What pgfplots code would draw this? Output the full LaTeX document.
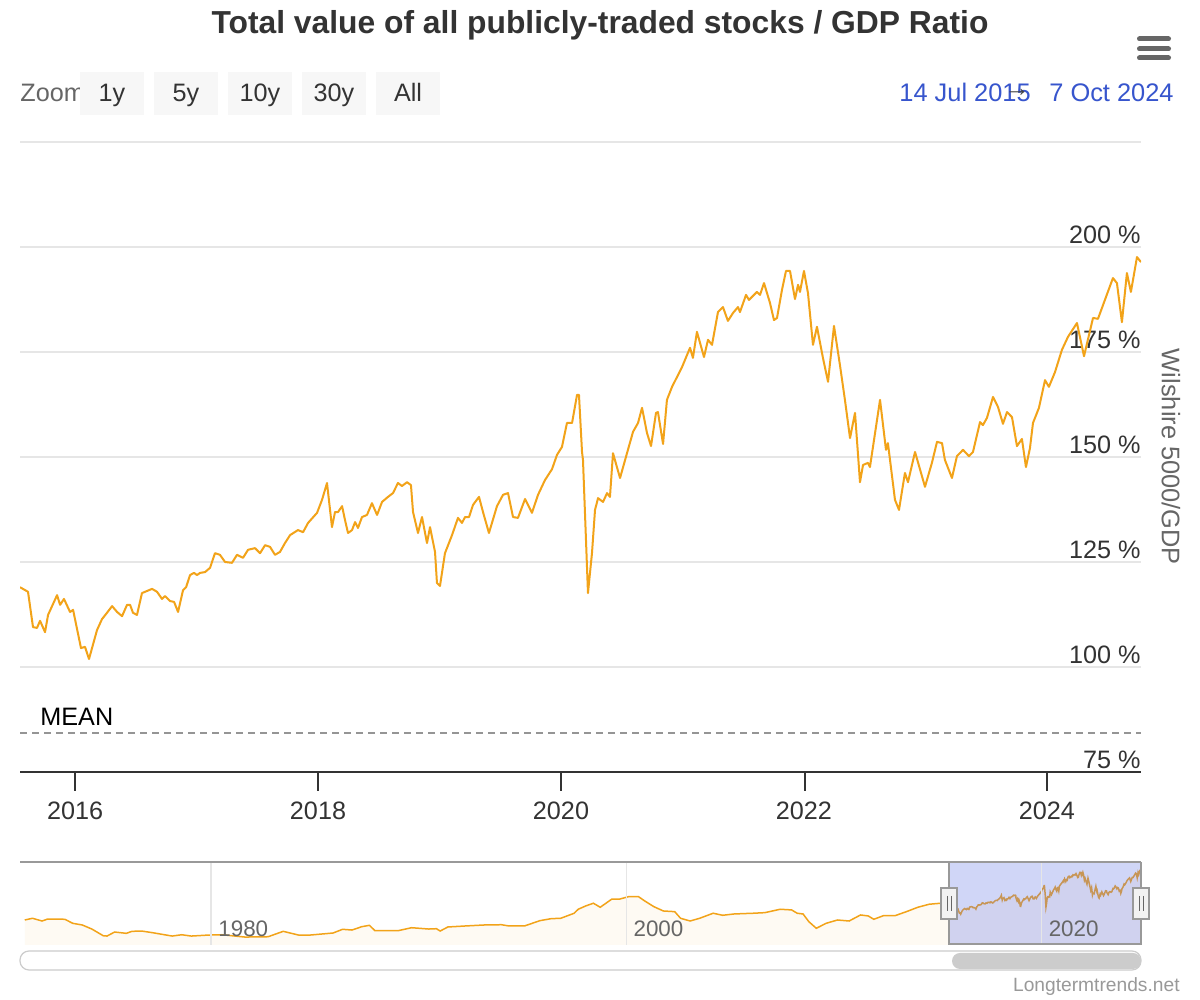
\documentclass[border=0pt]{standalone}
\usepackage{fontspec}
\setmainfont{Liberation Sans}
\usepackage{pgfplots}
\usepackage{pgfplotstable}
\pgfplotsset{compat=1.18}
\definecolor{lineorange}{RGB}{242,163,25}
\definecolor{c333}{HTML}{333333}
\definecolor{c444}{HTML}{444444}
\definecolor{c666}{HTML}{666666}
\definecolor{c999}{HTML}{999999}
\definecolor{gridgray}{HTML}{E6E6E6}
\definecolor{btn}{HTML}{F7F7F7}
\definecolor{datablue}{RGB}{55,85,205}
\definecolor{maskblue}{RGB}{102,120,230}
\definecolor{navfill}{RGB}{254,250,243}
\definecolor{scrollgray}{HTML}{CCCCCC}
\definecolor{meangray}{HTML}{959595}
\definecolor{handlefill}{HTML}{F2F2F2}
\newcommand{\fs}[1]{\fontsize{#1}{#1}\selectfont}

\pgfplotstableread{
x y
2015.547 119.0
2015.613 117.9
2015.654 109.5
2015.687 109.3
2015.712 111.0
2015.753 108.3
2015.778 112.4
2015.852 117.1
2015.877 114.8
2015.909 116.2
2015.959 113.1
2015.984 113.6
2016.049 104.5
2016.082 104.8
2016.115 101.9
2016.181 108.8
2016.222 111.4
2016.263 112.9
2016.305 114.5
2016.346 113.1
2016.387 112.1
2016.428 114.8
2016.453 114.8
2016.477 112.9
2016.510 112.4
2016.551 117.6
2016.593 118.1
2016.634 118.6
2016.675 117.9
2016.716 116.2
2016.741 116.9
2016.782 115.7
2016.815 115.5
2016.848 113.1
2016.889 118.3
2016.914 119.0
2016.947 121.9
2016.979 122.4
2017.004 121.9
2017.029 122.4
2017.070 122.6
2017.111 123.6
2017.152 127.1
2017.193 126.7
2017.235 125.0
2017.292 124.8
2017.333 126.7
2017.383 126.0
2017.424 127.9
2017.481 128.3
2017.523 127.1
2017.564 129.0
2017.605 128.6
2017.646 126.7
2017.687 127.4
2017.728 129.5
2017.770 131.4
2017.835 132.6
2017.877 132.1
2017.918 134.3
2017.992 136.7
2018.033 139.8
2018.074 143.8
2018.115 133.3
2018.140 136.9
2018.165 136.9
2018.198 138.3
2018.222 135.0
2018.247 131.9
2018.280 132.6
2018.305 134.5
2018.329 133.1
2018.362 135.7
2018.403 136.2
2018.444 139.0
2018.486 136.2
2018.527 139.3
2018.576 140.5
2018.617 141.4
2018.658 143.8
2018.691 143.1
2018.733 144.0
2018.765 143.3
2018.782 136.9
2018.823 131.9
2018.856 135.7
2018.897 129.5
2018.922 133.3
2018.963 127.4
2018.979 120.0
2019.004 119.3
2019.045 127.1
2019.103 131.4
2019.152 135.5
2019.185 134.3
2019.210 135.7
2019.243 135.7
2019.276 138.6
2019.325 140.5
2019.358 136.9
2019.407 131.9
2019.473 138.3
2019.523 141.0
2019.564 141.4
2019.605 135.7
2019.646 135.5
2019.704 140.0
2019.761 136.7
2019.811 141.0
2019.868 144.5
2019.926 147.1
2019.967 150.5
2020.008 152.4
2020.049 158.1
2020.091 158.1
2020.132 164.8
2020.148 164.8
2020.173 151.2
2020.181 149.3
2020.222 117.6
2020.255 127.1
2020.280 137.4
2020.305 140.2
2020.346 139.3
2020.379 141.4
2020.403 140.5
2020.428 150.9
2020.486 145.0
2020.551 151.7
2020.593 156.0
2020.634 158.1
2020.667 161.7
2020.708 155.7
2020.741 152.6
2020.782 160.5
2020.798 160.7
2020.840 153.1
2020.872 163.6
2020.914 166.7
2020.996 171.4
2021.062 176.0
2021.086 173.6
2021.119 179.8
2021.177 173.8
2021.210 177.9
2021.243 176.7
2021.292 184.5
2021.333 185.7
2021.374 182.4
2021.416 184.3
2021.457 185.7
2021.473 184.5
2021.523 188.6
2021.547 187.4
2021.613 189.3
2021.638 188.6
2021.671 191.4
2021.720 186.7
2021.753 182.6
2021.778 183.1
2021.819 189.8
2021.852 194.3
2021.885 194.3
2021.926 187.6
2021.951 191.0
2021.967 189.3
2022.000 194.3
2022.033 189.0
2022.074 176.7
2022.107 181.0
2022.156 173.6
2022.198 167.9
2022.247 181.2
2022.296 171.9
2022.337 163.6
2022.379 154.5
2022.420 160.5
2022.461 144.0
2022.486 148.1
2022.527 148.6
2022.543 147.6
2022.626 163.6
2022.675 151.7
2022.691 153.3
2022.749 139.8
2022.782 137.4
2022.831 146.2
2022.856 144.0
2022.914 151.2
2022.996 142.9
2023.053 148.6
2023.095 153.6
2023.136 153.3
2023.160 149.3
2023.218 145.0
2023.259 150.2
2023.309 151.7
2023.358 150.2
2023.391 151.2
2023.449 158.3
2023.473 157.6
2023.506 159.3
2023.556 164.3
2023.597 161.9
2023.638 157.9
2023.671 160.7
2023.712 159.5
2023.753 152.6
2023.794 154.3
2023.827 147.6
2023.860 152.1
2023.885 158.1
2023.934 161.7
2023.984 168.3
2024.016 166.7
2024.066 170.2
2024.123 175.5
2024.173 178.6
2024.247 181.9
2024.305 174.0
2024.379 183.1
2024.420 182.9
2024.477 187.4
2024.543 192.6
2024.576 191.4
2024.617 182.1
2024.658 193.8
2024.691 189.3
2024.741 197.6
2024.774 196.4
}\mainT

\pgfplotstableread{
x y
1971.03 89.1
1971.40 92.9
1971.86 86.9
1972.14 91.3
1972.96 90.7
1973.34 81.8
1973.80 78.1
1974.26 69.2
1974.81 54.4
1974.99 53.7
1975.36 62.6
1975.92 59.7
1976.19 64.1
1976.66 64.8
1977.20 61.0
1978.13 53.7
1978.59 56.6
1979.05 53.7
1979.88 55.9
1980.53 56.6
1981.64 51.5
1982.75 52.2
1983.48 64.1
1984.22 55.9
1984.77 55.9
1985.88 60.4
1986.34 68.6
1986.79 67.0
1987.26 74.3
1987.63 77.4
1987.90 65.5
1989.01 65.5
1989.66 72.1
1990.49 69.2
1990.86 69.9
1991.04 64.8
1991.41 73.7
1992.24 75.9
1993.16 78.1
1993.99 78.7
1994.36 75.9
1995.10 75.9
1995.84 87.6
1996.38 92.0
1996.85 92.9
1997.49 103.9
1997.69 112.8
1998.05 120.1
1998.42 126.1
1998.75 117.2
1999.30 134.9
1999.66 134.9
2000.13 140.7
2000.59 140.7
2000.87 131.8
2001.33 118.6
2001.79 109.0
2002.34 107.5
2002.62 92.9
2003.08 86.9
2003.54 92.9
2004.19 104.0
2004.65 99.5
2005.20 102.4
2006.12 104.0
2006.68 105.3
2007.42 112.8
2007.97 111.3
2008.24 104.0
2008.52 102.4
2008.80 85.4
2009.16 70.8
2009.63 81.8
2010.18 89.1
2010.74 86.9
2011.29 100.2
2011.66 98.0
2011.93 90.7
2012.39 98.6
2012.95 98.6
2013.50 107.5
2014.05 117.2
2014.60 123.9
2015.16 126.1
2015.547 119.0
}\histT

\begin{document}
\begin{tikzpicture}
\begin{scope}[x=0.5pt,y=0.5pt]
\fill[white] (0,0) rectangle (1200,1000);
\end{scope}

% ---------- main chart ----------
\begin{axis}[
  at={(10pt,114pt)}, anchor=south west,
  width=560.5pt, height=315pt, scale only axis,
  xmin=2015.547, xmax=2024.774, ymin=75, ymax=225,
  axis line style={draw=none},
  major tick length=0pt,
  xtick={2016,2018,2020,2022,2024},
  xticklabels={2016,2018,2020,2022,2024},
  xtick pos=bottom,
  xticklabel style={font=\fs{12.6}, text=c333, anchor=north, yshift=-11.5pt},
  ytick={75,100,125,150,175,200,225},
  yticklabels={75 \%,100 \%,125 \%,150 \%,175 \%,200 \%,{}},
  yticklabel pos=right,
  yticklabel style={font=\fs{12.6}, text=c333, anchor=south east, inner xsep=0pt, inner ysep=1.5pt},
  ymajorgrids, grid style={draw=gridgray, line width=0.6pt},
  /pgf/number format/assume math mode=true,
]
\addplot[meangray, line width=1pt, dash pattern=on 3.5pt off 2.5pt] coordinates {(2015.547,84.3) (2024.774,84.3)};
\addplot[lineorange, line width=1pt, line join=round] table[x=x,y=y] {\mainT};
\end{axis}

% ---------- navigator ----------
\begin{axis}[
  at={(10pt,27.5pt)}, anchor=south west,
  width=560.5pt, height=41.5pt, scale only axis,
  xmin=1970.8, xmax=2024.8, ymin=34, ymax=217,
  axis on top,
  axis line style={draw=none},
  major tick length=0pt,
  ytick=\empty,
  xtick={1980,2000,2020}, xticklabels={1980,2000,2020},
  xtick pos=bottom,
  xmajorgrids, grid style={draw=gridgray, line width=0.6pt},
  xticklabel style={font=\fs{11.2}, text=c666, anchor=south west, inner xsep=3.5pt, inner ysep=4pt},
  /pgf/number format/assume math mode=true,
]
\addplot[draw=none, fill=navfill] table[x=x,y=y] {\histT} \closedcycle;
\addplot[draw=none, fill=navfill] table[x=x,y=y] {\mainT} \closedcycle;
\addplot[lineorange, line width=0.75pt] table[x=x,y=y] {\histT};
\addplot[lineorange, line width=0.75pt] table[x=x,y=y] {\mainT};
\fill[maskblue, fill opacity=0.3] (axis cs:2015.57,34) rectangle (axis cs:2024.8,217);
\end{axis}

\begin{scope}[x=0.5pt,y=0.5pt]
% main x axis line and ticks
\draw[c333, line width=1pt] (20,228) -- (1141,228);
\foreach \xx in {75,318,561,805,1047}{
  \draw[c333, line width=1pt] (\xx,228) -- (\xx,209);
}
% navigator outline and handles
\draw[c999, line width=1pt] (20,138) -- (1141,138);
\draw[c999, line width=0.8pt] (949,138) -- (949,56) -- (1141,56) -- (1141,138);
\filldraw[fill=handlefill, draw=c999, line width=0.6pt] (941,112) rectangle (957,81);
\draw[c666, line width=0.5pt] (947,104) -- (947,89) (951,104) -- (951,89);
\filldraw[fill=handlefill, draw=c999, line width=0.6pt] (1133,112) rectangle (1149,81);
\draw[c666, line width=0.5pt] (1139,104) -- (1139,89) (1143,104) -- (1143,89);

% scrollbar
\draw[fill=white, draw=scrollgray, line width=0.6pt, rounded corners=4.5pt] (20,49) rectangle (1141,30);
\fill[scrollgray, rounded corners=4pt] (952,47) rectangle (1141,31);

% credits
\node[anchor=base east, inner sep=0, text=c999, font=\fs{9.6}] at (1180,8) {Longtermtrends.net};

% mean label
\node[anchor=base west, inner sep=0, text=black, font=\fs{12.6}] at (40,274) {MEAN};

% y axis title
\node[rotate=-90, text=c666, font=\fs{12.7}] at (1171,543) {Wilshire 5000/GDP};

% title
\node[anchor=base, inner sep=0, text=c333, font=\bfseries\fs{15.9}] at (600,966) {Total value of all publicly-traded stocks / GDP Ratio};

% hamburger
\draw[c666, line width=2.5pt, line cap=round] (1139.5,961) -- (1168.5,961) (1139.5,951) -- (1168.5,951) (1139.5,942) -- (1168.5,942);

% range selector
\node[anchor=base west, inner sep=0, text=c666, font=\fs{12.6}] at (20,898) {Zoom};
\foreach \a/\b/\lab in {80/144/1y, 154/218/5y, 228/292/10y, 302/366/30y, 376/440/All}{
  \fill[btn] (\a,928) rectangle (\b,885);
  \node[anchor=base, inner sep=0, text=c333, font=\fs{12.6}] at ({(\a+\b)/2},898) {\lab};
}
\node[anchor=base west, inner sep=0, text=datablue, font=\fs{12.7}] at (899,898) {14 Jul 2015};
\node[anchor=base east, inner sep=0, text=datablue, font=\fs{12.7}] at (1174,898) {7 Oct 2024};
\node[inner sep=0, text=c444, font=\fs{12.7}] at (1017,907) {→};
\path (0,0) rectangle (1200,1000);
\end{scope}
\end{tikzpicture}
\end{document}
